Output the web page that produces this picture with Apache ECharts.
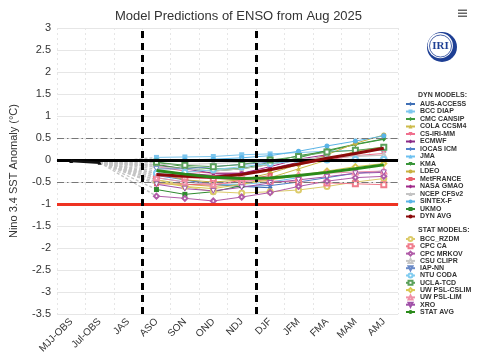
<!DOCTYPE html>
<html><head><meta charset="utf-8">
<script src="https://cdn.jsdelivr.net/npm/echarts@6/dist/echarts.min.js"></script>
<style>html,body{margin:0;padding:0;background:#fff}#c{width:477px;height:356px}</style>
</head><body><div id="c"></div>
<script>
// ---------------- DATA ----------------
const categories = ['MJJ-OBS','Jul-OBS','JAS','ASO','SON','OND','NDJ','DJF','JFM','FMA','MAM','AMJ'];
const forecastStart = 3; // first forecast season (ASO)
const observed = [-0.02, -0.06];
const yTicks = {min: -3.5, max: 3, interval: 0.5};
const dividerAfter = ['JAS', 'NDJ'];
const refLevels = {zero: 0, warm: 0.5, cool: -0.5, lanina: -1};

// DYN models: ASO..AMJ
const dynAUS   = [-0.30, -0.45, -0.55, -0.60, -0.63, null, null, null, null];
const dynBCC   = [0.06, 0.07, 0.08, 0.12, 0.14, 0.17, 0.20, 0.22, 0.22];
const dynCMC   = [-0.05, -0.15, -0.20, -0.20, -0.10, 0.05, 0.22, 0.36, 0.48];
const dynCOLA  = [-0.45, -0.55, -0.60, -0.55, -0.40, -0.20, 0.00, 0.20, 0.30];
const dynCSIRI = [-0.15, -0.25, -0.30, -0.30, -0.20, -0.10, 0.00, 0.10, 0.15];
const dynECMWF = [-0.12, -0.20, -0.30, -0.30, -0.20, -0.05, 0.10, null, null];
const dynIOCAS = [-0.35, -0.45, -0.55, -0.60, -0.58, -0.50, -0.40, -0.30, -0.25];
const dynJMA   = [-0.40, -0.50, -0.55, -0.55, -0.50, -0.40, null, null, null];
const dynKMA   = [-0.10, -0.20, -0.25, -0.20, -0.05, 0.10, 0.20, 0.35, 0.47];
const dynLDEO  = [-0.30, -0.45, -0.50, -0.45, -0.30, -0.10, 0.12, 0.38, 0.57];
const dynMetF  = [-0.54, -0.55, -0.57, -0.46, -0.35, null, null, null, null];
const dynNASA  = [-0.25, -0.30, -0.35, -0.30, -0.15, 0.02, 0.12, null, null];
const dynNCEP  = [-0.15, -0.20, -0.25, -0.20, -0.10, 0.00, 0.05, 0.08, 0.11];
const dynSINTEX= [0.00, 0.00, 0.02, 0.05, 0.10, 0.20, 0.32, 0.43, 0.55];
const dynUKMO  = [-0.67, -0.78, -0.72, -0.58, null, null, null, null, null];
const dynAvg   = [-0.33, -0.37, -0.39, -0.33, -0.22, -0.09, 0.04, 0.15, 0.27];

// STAT models: ASO..AMJ
const stBCC    = [-0.45, -0.60, -0.72, -0.75, -0.72, -0.68, -0.60, -0.50, -0.42];
const stCPCCA  = [-0.35, -0.40, -0.42, -0.45, -0.48, -0.50, -0.52, -0.54, -0.56];
const stMRKOV  = [-0.82, -0.87, -0.93, -0.84, -0.74, -0.60, -0.48, -0.40, -0.37];
const stCSU    = [-0.10, -0.10, -0.08, -0.05, -0.02, 0.02, 0.06, 0.09, 0.11];
const stIAP    = [-0.20, -0.20, -0.15, -0.10, -0.05, 0.00, null, null, null];
const stNTU    = [-0.30, -0.28, -0.22, -0.15, -0.08, -0.02, 0.00, 0.02, 0.02];
const stUCLA   = [-0.05, -0.12, -0.15, -0.10, 0.00, 0.08, 0.18, 0.22, 0.29];
const stCSLIM  = [-0.50, -0.60, -0.65, -0.55, -0.45, -0.35, -0.25, -0.15, -0.08];
const stLIM    = [-0.40, -0.50, -0.55, -0.50, -0.42, -0.35, -0.30, -0.27, -0.25];
const stXRO    = [-0.55, -0.65, -0.70, -0.62, -0.52, -0.45, -0.38, -0.30, -0.28];
const statAvg  = [-0.24, -0.32, -0.39, -0.42, -0.41, -0.35, -0.28, -0.20, -0.11];

const dynNames  = ['AUS-ACCESS','BCC DIAP','CMC CANSIP','COLA CCSM4','CS-IRI-MM','ECMWF','IOCAS ICM','JMA','KMA','LDEO','MetFRANCE','NASA GMAO','NCEP CFSv2','SINTEX-F','UKMO'];
const dynValues = [dynAUS,dynBCC,dynCMC,dynCOLA,dynCSIRI,dynECMWF,dynIOCAS,dynJMA,dynKMA,dynLDEO,dynMetF,dynNASA,dynNCEP,dynSINTEX,dynUKMO];
const statNames  = ['BCC_RZDM','CPC CA','CPC MRKOV','CSU CLIPR','IAP-NN','NTU CODA','UCLA-TCD','UW PSL-CSLIM','UW PSL-LIM','XRO'];
const statValues = [stBCC,stCPCCA,stMRKOV,stCSU,stIAP,stNTU,stUCLA,stCSLIM,stLIM,stXRO];

// ---------------- STYLE ----------------
const triDown = 'path://M0,0 L10,0 L5,9 Z';
const dynStyle = [
  ['#3f6fb5','diamond'],['#7cc6ee','rect'],['#3e9a3e','diamond'],['#cdbb4a','triangle'],['#f0708e',triDown],
  ['#8a2a86','diamond'],['#4f80c8','diamond'],['#6cc0f0','triangle'],['#3a953a',triDown],['#c8b040','circle'],
  ['#e8606c','rect'],['#a02a8a','diamond'],['#c4c4c4','triangle'],['#5ab4e6','circle'],['#2f8a2f','rect']
];
const statStyle = [
  ['#dccb6a','emptyCircle'],['#f07c8c','emptyRect'],['#b05ca8','emptyDiamond'],['#c6c6c6','emptyTriangle'],['#6a8ac8',triDown],
  ['#80ccf0','emptyCircle'],['#5aa05a','emptyRect'],['#d8c850','emptyDiamond'],['#f090a8','emptyTriangle'],['#a050a8',triDown]
];
const pad = v => Array(forecastStart).fill(null).concat(v);

const series = [];
dynValues.concat(statValues).forEach(v => {
  const d = Array(categories.length).fill(null);
  d[observed.length - 1] = observed[observed.length - 1];
  d[forecastStart] = v[0];
  series.push({type:'line', data:d, connectNulls:true, symbol:'none', silent:true, z:1,
    lineStyle:{color:'#c4c4c4', width:1.3, type:[3,2]}});
});
dynNames.forEach((n,i) => {
  series.push({name:n, type:'line', data:pad(dynValues[i]), symbol:dynStyle[i][1], symbolSize:5, z:3,
    itemStyle:{color:dynStyle[i][0]}, lineStyle:{color:dynStyle[i][0], width:1}});
});
series.push({name:'DYN AVG', type:'line', data:pad(dynAvg), symbol:'none', z:5,
  itemStyle:{color:'#8b0a0a'}, lineStyle:{color:'#8b0a0a', width:3}});
statNames.forEach((n,i) => {
  const hollowPath = statStyle[i][1] === triDown;
  series.push({name:n, type:'line', data:pad(statValues[i]), symbol:statStyle[i][1], symbolSize:5, z:3,
    itemStyle:{color:hollowPath ? '#fff' : statStyle[i][0], borderColor:statStyle[i][0], borderWidth:1},
    lineStyle:{color:statStyle[i][0], width:1}});
});
series.push({name:'STAT AVG', type:'line', data:pad(statAvg), symbol:'none', z:5,
  itemStyle:{color:'#2a8a1a'}, lineStyle:{color:'#2a8a1a', width:3}});
series.push({type:'line', data:observed, symbol:'triangle', symbolSize:4, z:6,
  itemStyle:{color:'#111'}, lineStyle:{color:'#111', width:2.5}});
series.push({type:'line', data:[], z:8, silent:true, markLine:{silent:true, symbol:'none', label:{show:false},
  data:[
    {yAxis:refLevels.warm, lineStyle:{color:'#777', width:1.2, type:[7,3,1.5,3]}},
    {yAxis:refLevels.cool, lineStyle:{color:'#777', width:1.2, type:[7,3,1.5,3]}},
    {yAxis:refLevels.zero, lineStyle:{color:'#000', width:3, type:'solid'}},
    {yAxis:refLevels.lanina, lineStyle:{color:'#ee3322', width:3, type:'solid'}}
  ]}});
series.push({type:'line', xAxisIndex:1, data:[], z:9, silent:true, markLine:{silent:true, symbol:'none', label:{show:false},
  lineStyle:{color:'#000', width:3, type:[7,5]},
  data: dividerAfter.map(c => ({xAxis: categories.indexOf(c) + 1}))}});

const legendText = {fontSize:7, fontWeight:'bold', color:'#333', fontFamily:'Liberation Sans', lineHeight:7};
const option = {
  animation:false,
  backgroundColor:'#fff',
  title:{text:'Model Predictions of ENSO from Aug 2025', left:'center', top:5,
    textStyle:{fontSize:13, fontWeight:'normal', color:'#333', fontFamily:'Liberation Sans'}},
  grid:{left:57, right:79, top:28, bottom:38},
  xAxis:[{type:'category', data:categories, boundaryGap:true,
    axisLine:{lineStyle:{color:'#ccd6eb'}}, axisTick:{show:false},
    axisLabel:{rotate:45, fontSize:10, color:'#333', margin:6, fontFamily:'Liberation Sans'},
    splitLine:{show:true, lineStyle:{color:'#e6e6e6', type:[2,3]}}},
    {type:'value', min:0, max:categories.length, show:false}],
  yAxis:{type:'value', min:yTicks.min, max:yTicks.max, interval:yTicks.interval,
    name:'Nino 3.4 SST Anomaly (°C)', nameLocation:'middle', nameGap:38,
    nameTextStyle:{fontSize:11, color:'#333', fontFamily:'Liberation Sans'},
    axisLine:{show:false}, axisTick:{show:false},
    axisLabel:{fontSize:11, color:'#333', margin:6, fontFamily:'Liberation Sans'},
    splitLine:{lineStyle:{color:'#e6e6e6'}}},
  legend:[
    {data:dynNames.concat(['DYN AVG']), orient:'vertical', left:405, top:100.5, padding:0, itemWidth:9, itemHeight:5, itemGap:0.5,
      textStyle:legendText, selectedMode:false},
    {data:statNames.concat(['STAT AVG']), orient:'vertical', left:405, top:235.5, padding:0, itemWidth:9, itemHeight:5, itemGap:0.3,
      textStyle:legendText, selectedMode:false}
  ],
  graphic:[
    {type:'text', left:418, top:91.5, style:{text:'DYN MODELS:', fontSize:7, fontWeight:'bold', fill:'#333', fontFamily:'Liberation Sans'}},
    {type:'text', left:418, top:227, style:{text:'STAT MODELS:', fontSize:7, fontWeight:'bold', fill:'#333', fontFamily:'Liberation Sans'}},
    {type:'circle', shape:{cx:442, cy:47, r:15}, style:{fill:'#1e3f94'}},
    {type:'circle', shape:{cx:440.3, cy:45.6, r:12.6}, style:{fill:'#fff'}},
    {type:'circle', shape:{cx:440.5, cy:46, r:11}, style:{fill:'none', stroke:'#1e3f94', lineWidth:0.8}},
    {type:'text', x:440.5, y:46, style:{text:'IRI', fontSize:11, fontWeight:'bold', fontFamily:'Liberation Serif', fill:'#1e3f94', align:'center', verticalAlign:'middle'}},
    {type:'rect', shape:{x:458, y:9.5, width:9, height:1.5}, style:{fill:'#666'}},
    {type:'rect', shape:{x:458, y:12.5, width:9, height:1.5}, style:{fill:'#666'}},
    {type:'rect', shape:{x:458, y:15.5, width:9, height:1.5}, style:{fill:'#666'}}
  ],
  series: series
};
const chart = echarts.init(document.getElementById('c'), null, {renderer:'canvas'});
chart.setOption(option);
</script></body></html>
